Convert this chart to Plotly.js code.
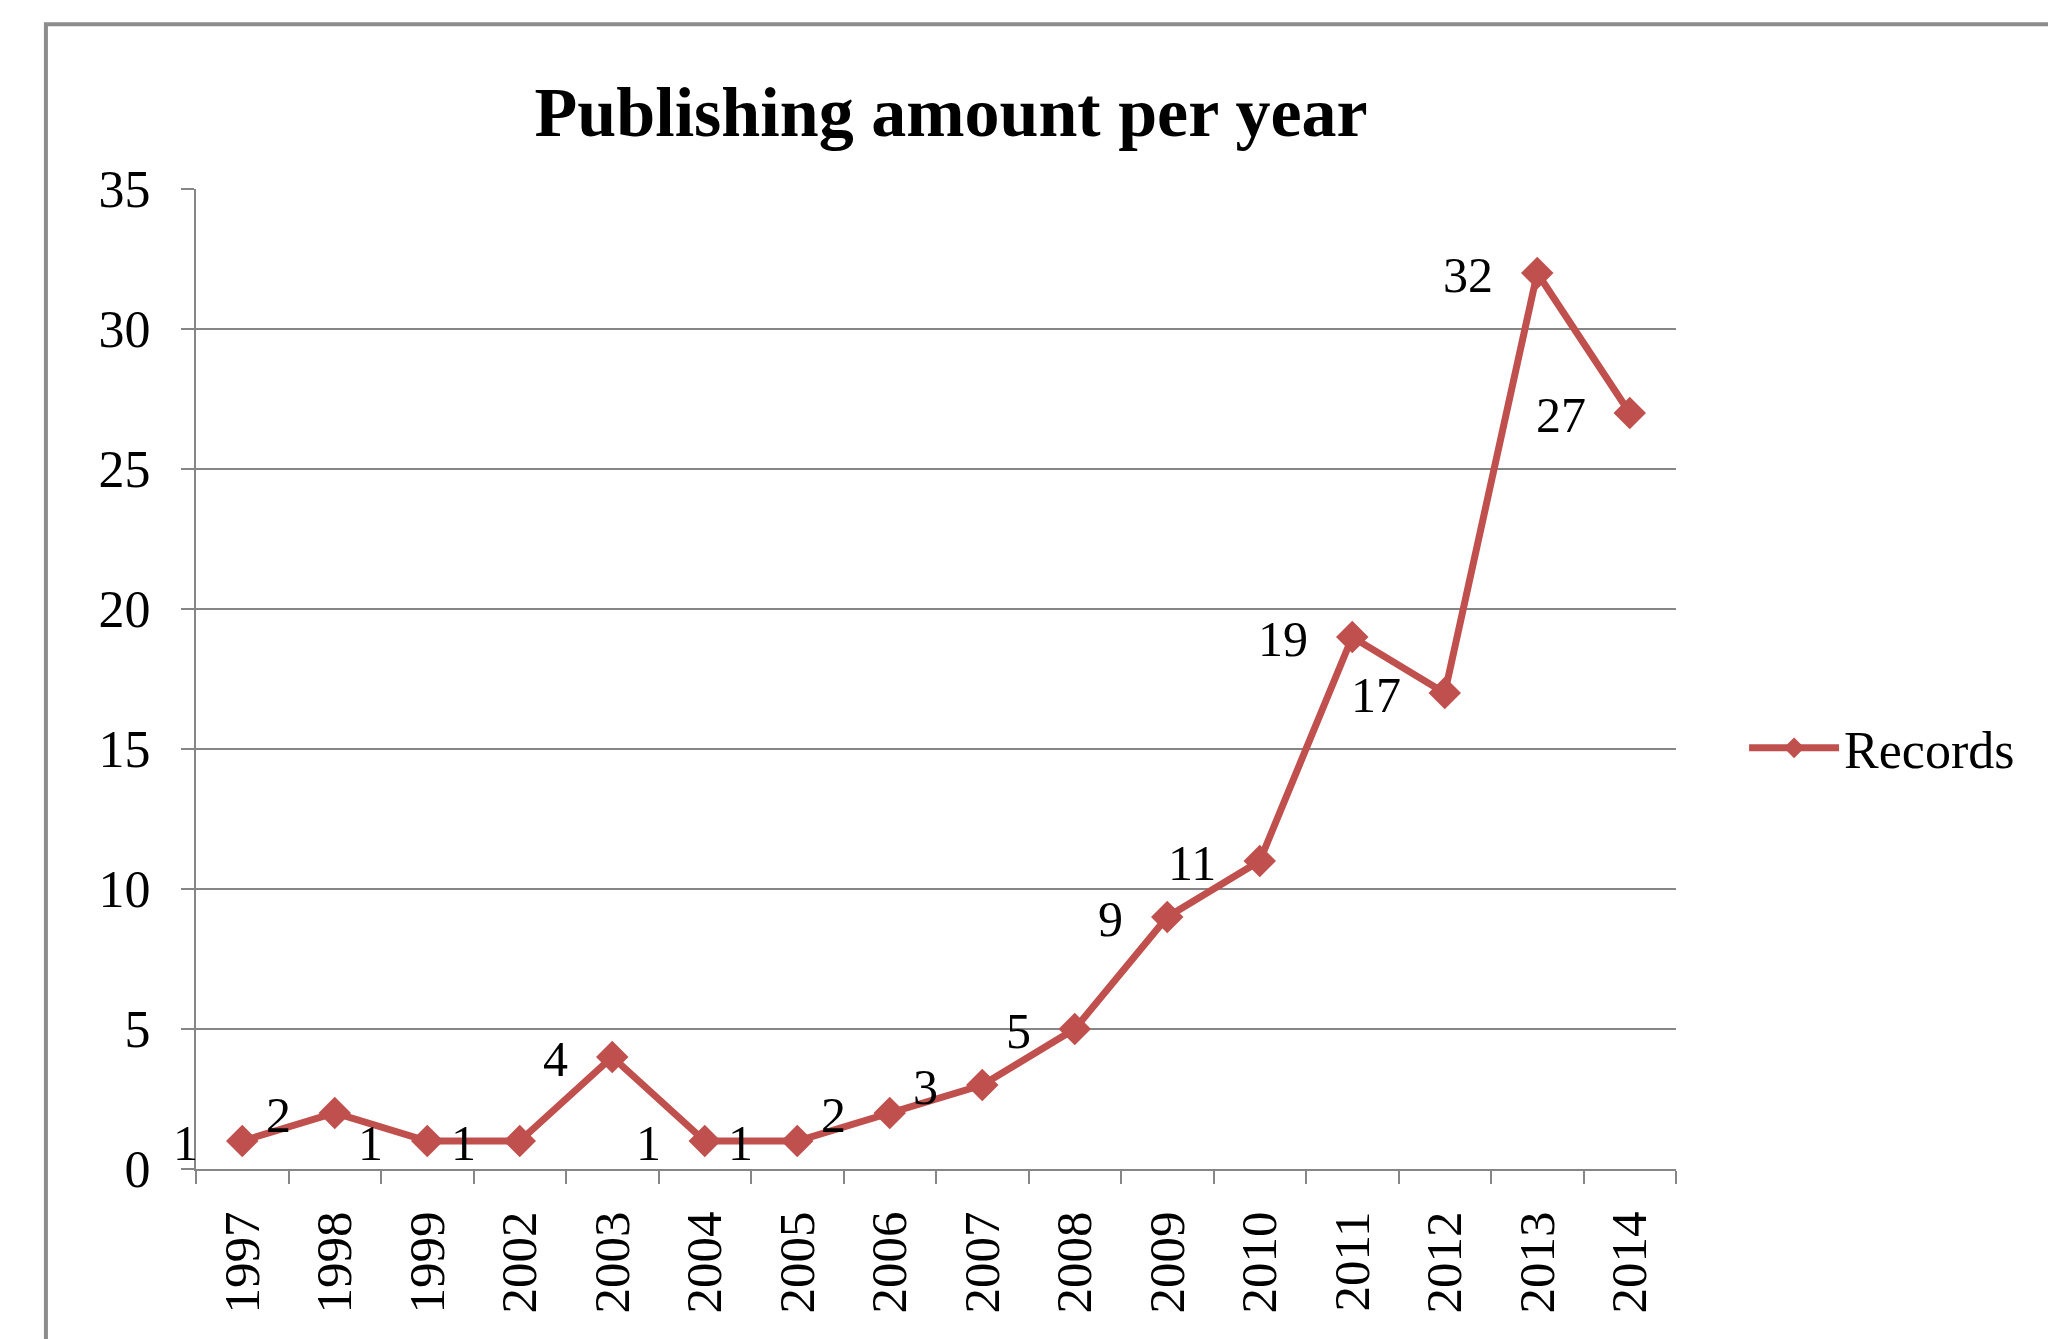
<!DOCTYPE html>
<html>
<head>
<meta charset="utf-8">
<script src="https://cdn.plot.ly/plotly-3.0.1.min.js"></script>
<style>
html,body{margin:0;padding:0;background:#fff;}
#chart{width:2048px;height:1339px;}
</style>
</head>
<body>
<div id="chart"></div>
<script>
const years = ["1997","1998","1999","2002","2003","2004","2005","2006","2007","2008","2009","2010","2011","2012","2013","2014"];
const records = [1,2,1,1,4,1,1,2,3,5,9,11,19,17,32,27];
const seriesName = "Records";
const chartTitle = "Publishing amount per year";

const red = "#C0504D";
const serif = "Liberation Serif, Times New Roman, serif";

const trace = {
  x: years,
  y: records,
  name: seriesName,
  type: "scatter",
  mode: "lines+markers",
  line: {color: red, width: 7},
  marker: {symbol: "diamond", size: 25, color: red},
  cliponaxis: false
};

// data labels placed left of each point (category index = position in years)
const labels = years.map((yr, i) => ({
  x: i,
  y: records[i],
  xref: "x",
  yref: "y",
  text: String(records[i]),
  showarrow: false,
  xanchor: "right",
  yanchor: "middle",
  xshift: -42,
  yshift: -2,
  font: {family: serif, size: 50, color: "#000"}
}));

const layout = {
  width: 2048,
  height: 1339,
  margin: {l: 196, r: 372, t: 189, b: 170},
  paper_bgcolor: "#fff",
  plot_bgcolor: "#fff",
  font: {family: serif, color: "#000"},
  title: {
    text: "<b>" + chartTitle + "</b>",
    font: {family: serif, size: 70, color: "#000"},
    x: 0.4644, xref: "container", xanchor: "center",
    y: 0.917, yref: "container", yanchor: "middle"
  },
  xaxis: {
    type: "category",
    categoryorder: "array",
    categoryarray: years,
    tickson: "boundaries",
    ticks: "outside",
    ticklen: 13,
    tickwidth: 2,
    tickcolor: "#868686",
    showline: true,
    linecolor: "#868686",
    linewidth: 2,
    showgrid: false,
    tickangle: -90,
    tickfont: {family: serif, size: 51, color: "#000"},
    ticklabelstandoff: 20,
    range: [-0.5, 15.5],
    fixedrange: true
  },
  yaxis: {
    range: [0, 35],
    dtick: 5,
    tick0: 0,
    ticks: "outside",
    ticklen: 13,
    tickwidth: 2,
    tickcolor: "#868686",
    showline: true,
    linecolor: "#868686",
    linewidth: 2,
    showgrid: true,
    gridcolor: "#868686",
    gridwidth: 2,
    zeroline: false,
    tickfont: {family: serif, size: 52, color: "#000"},
    ticklabelstandoff: 20,
    fixedrange: true
  },
  showlegend: true,
  legend: {
    x: 1.046, xref: "paper", xanchor: "left",
    y: 0.4296, yref: "paper", yanchor: "middle",
    font: {family: serif, size: 52, color: "#000"},
    bgcolor: "rgba(0,0,0,0)",
    itemwidth: 90
  },
  annotations: labels,
  shapes: [{
    type: "rect",
    xref: "paper", yref: "paper",
    x0: -0.1014, x1: 1.3,
    y0: -0.3, y1: 1.168,
    line: {color: "#8c8c8c", width: 4},
    fillcolor: "rgba(0,0,0,0)",
    layer: "below"
  }]
};

Plotly.newPlot("chart", [trace], layout, {displayModeBar: false, staticPlot: true});
</script>
</body>
</html>
